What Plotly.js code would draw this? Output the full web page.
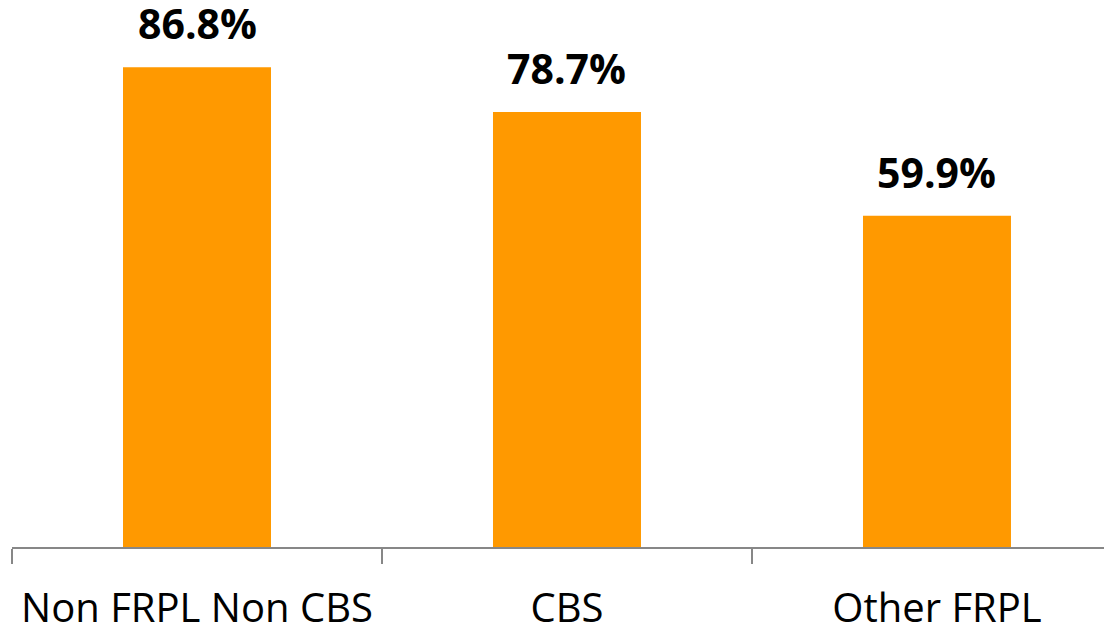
<!DOCTYPE html>
<html>
<head>
<meta charset="utf-8">
<script src="https://cdn.plot.ly/plotly-3.0.1.min.js"></script>
<style>html,body{margin:0;padding:0;background:#fff;}#chart{width:1104px;height:626px;}</style>
</head>
<body>
<div id="chart"></div>
<script>
const categories = ["Non FRPL Non CBS", "CBS", "Other FRPL"];
const values = [86.8, 78.7, 59.9];
const valueLabels = values.map(v => v.toFixed(1) + "%");

const trace = {
  type: "bar",
  x: categories,
  y: values,
  marker: {color: "#FF9900"},
  width: 0.4,
  hoverinfo: "none"
};

const annotations = categories.map((c, i) => ({
  x: c,
  y: values[i],
  xref: "x",
  yref: "y",
  text: "<b>" + valueLabels[i] + "</b>",
  showarrow: false,
  yanchor: "bottom",
  xanchor: "center",
  yshift: 14,
  font: {family: "Open Sans", size: 41, color: "#000"}
}));

const layout = {
  width: 1104,
  height: 626,
  margin: {l: 12, r: 0, t: 0, b: 79, pad: 0},
  paper_bgcolor: "#fff",
  plot_bgcolor: "#fff",
  showlegend: false,
  annotations: annotations,
  xaxis: {
    type: "category",
    range: [-0.5, 2.4514],
    showline: true,
    linecolor: "#878787",
    linewidth: 2,
    ticks: "outside",
    tickson: "boundaries",
    ticklen: 15,
    tickwidth: 2,
    tickcolor: "#878787",
    ticklabelstandoff: 25,
    tickfont: {family: "Open Sans", size: 40, color: "#000"},
    showgrid: false,
    zeroline: false,
    fixedrange: true
  },
  yaxis: {
    range: [0, 98.95],
    visible: false,
    showgrid: false,
    zeroline: false,
    fixedrange: true
  }
};

Plotly.newPlot("chart", [trace], layout, {displayModeBar: false, staticPlot: true});
</script>
</body>
</html>
